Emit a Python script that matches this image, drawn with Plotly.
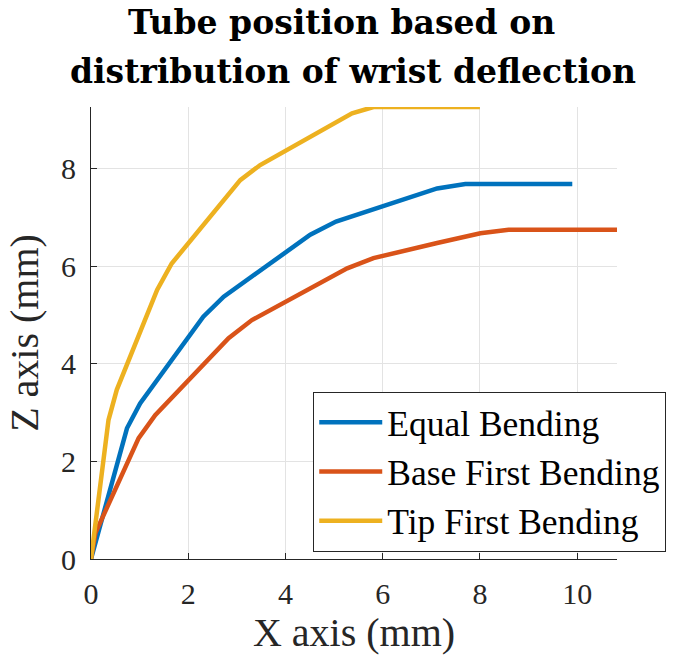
import plotly.graph_objects as go

# Data
equal_x = [0, 0.74, 1.01, 2.31, 2.73, 4.51, 5.04, 7.12, 7.70, 9.90]
equal_z = [0, 2.68, 3.19, 4.97, 5.38, 6.65, 6.92, 7.60, 7.69, 7.69]

base_x = [0, 0.09, 0.98, 1.32, 2.83, 3.31, 5.27, 5.81, 7.12, 8.01, 8.59, 10.82]
base_z = [0, 0.53, 2.48, 2.95, 4.53, 4.90, 5.96, 6.17, 6.48, 6.68, 6.75, 6.75]

tip_x = [0, 0.36, 0.53, 1.36, 1.66, 3.07, 3.48, 5.37, 5.81, 8.00]
tip_z = [0, 2.85, 3.47, 5.52, 6.06, 7.77, 8.08, 9.14, 9.27, 9.27]

series_names = ["Equal Bending", "Base First Bending", "Tip First Bending"]
series_colors = ["#0072BD", "#D95319", "#EDB120"]
x_ticks = [0, 2, 4, 6, 8, 10]
z_ticks = [0, 2, 4, 6, 8]
title_lines = ["Tube position based on", "distribution of wrist deflection"]

FONT = "Liberation Serif, Times New Roman, serif"
TITLE_FONT = "DejaVu Serif, serif"
INK = "#262626"

fig = go.Figure()
for name, xs, zs, col in zip(series_names, [equal_x, base_x, tip_x],
                             [equal_z, base_z, tip_z], series_colors):
    fig.add_trace(go.Scatter(x=xs, y=zs, mode="lines", name=name,
                             legendgroup=name,
                             line=dict(color=col, width=4.5)))

axis_common = dict(
    showline=True, linecolor=INK, linewidth=1,
    ticks="inside", ticklen=6, tickcolor=INK, tickwidth=1,
    showgrid=True, gridcolor="#e3e3e3", gridwidth=1,
    zeroline=False, mirror=False,
    tickfont=dict(family=FONT, size=30, color=INK),
    ticklabelstandoff=8,
)

fig.update_layout(
    width=679, height=662,
    margin=dict(l=91, r=62, t=107, b=103),
    paper_bgcolor="white", plot_bgcolor="white",
    xaxis=dict(range=[0, 10.82], tickvals=x_ticks,
               title=dict(text="X axis (mm)", standoff=8,
                          font=dict(family=FONT, size=40, color=INK)),
               **axis_common),
    yaxis=dict(range=[0, 9.27], tickvals=z_ticks,
               title=dict(text="Z axis (mm)", standoff=10,
                          font=dict(family=FONT, size=40, color=INK)),
               **axis_common),
    legend=dict(x=0.4225, y=0.37, xanchor="left", yanchor="top",
                bgcolor="white", bordercolor=INK, borderwidth=1,
                font=dict(family=FONT, size=35.5, color="black"),
                itemwidth=63,
                traceorder="grouped", tracegroupgap=0),
    showlegend=True,
)

# Two-line bold title over the axes
title_x = [0.477, 0.4976]
for i, line in enumerate(title_lines):
    fig.add_annotation(text=f"<b>{line}</b>", xref="paper", yref="paper",
                       x=title_x[i], xanchor="center",
                       y=1 + (107 - 23 - 49 * i) / 451.7, yanchor="middle",
                       showarrow=False,
                       font=dict(family=TITLE_FONT, size=33, color="black"))

fig.write_html("out.html")
